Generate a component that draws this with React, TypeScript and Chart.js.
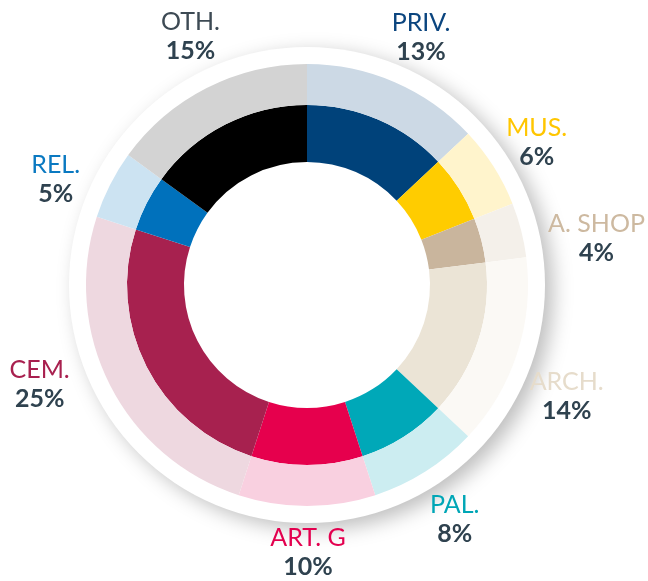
import React, { useEffect, useRef } from "react";
import { Chart, registerables } from "chart.js";

Chart.register(...registerables);

const categories = ["PRIV.", "MUS.", "A. SHOP", "ARCH.", "PAL.", "ART. G", "CEM.", "REL.", "OTH."];
const shares = [13, 6, 4, 14, 8, 10, 25, 5, 15];
const percentLabels = ["13%", "6%", "4%", "14%", "8%", "10%", "25%", "5%", "15%"];

const innerColors = ["#00427a", "#ffcc00", "#c9b59d", "#ebe4d6", "#00a8b8", "#e6004d", "#a7214f", "#0071bc", "#000000"];
const outerColors = ["#ccd9e5", "#fff4cc", "#f4f0ea", "#fbf9f5", "#ccedf1", "#f9d0e0", "#eed8e0", "#cce3f2", "#d3d3d3"];
const nameColors = ["#0b457f", "#ffc600", "#cdb9a0", "#e6dccb", "#00a6b6", "#e3004f", "#a8204f", "#0a79c1", "#3d4a54"];
const percentColor = "#2f424f";

// label nudges (styling) relative to the arc-based anchor
const labelNudges: [number, number][] = [
  [6, 2], [0, 3], [26, 21], [1, 27], [2, 5], [1, -5], [-25, -24], [-9, 18], [7, -6],
];

const ringPlugin = {
  id: "ringDecor",
  beforeDatasetsDraw(chart: any) {
    const meta = chart.getDatasetMeta(0);
    const arc = meta.data[0];
    if (!arc) return;
    const { x, y, outerRadius } = arc.getProps(["x", "y", "outerRadius"], true);
    const ctx = chart.ctx;
    ctx.save();
    ctx.beginPath();
    ctx.arc(x, y, outerRadius + 17, 0, Math.PI * 2);
    ctx.fillStyle = "#ffffff";
    ctx.shadowColor = "rgba(0,0,0,0.26)";
    ctx.shadowBlur = 20;
    ctx.shadowOffsetX = 8;
    ctx.shadowOffsetY = 6;
    ctx.fill();
    ctx.restore();
  },
  afterDraw(chart: any) {
    const outerMeta = chart.getDatasetMeta(0);
    const ctx = chart.ctx;
    ctx.save();
    ctx.textAlign = "center";
    ctx.textBaseline = "middle";
    outerMeta.data.forEach((el: any, i: number) => {
      const { x, y, startAngle, endAngle, outerRadius } = el.getProps(
        ["x", "y", "startAngle", "endAngle", "outerRadius"],
        true
      );
      const mid = (startAngle + endAngle) / 2;
      const r = outerRadius + 51;
      const lx = x + Math.cos(mid) * r + labelNudges[i][0];
      const ly = y + Math.sin(mid) * r + labelNudges[i][1];
      ctx.font = "400 25px Lato, 'Noto Sans', sans-serif";
      ctx.fillStyle = nameColors[i];
      ctx.fillText(categories[i], lx, ly - 14.5);
      ctx.font = "700 25px Lato, 'Noto Sans', sans-serif";
      ctx.fillStyle = percentColor;
      ctx.fillText(percentLabels[i], lx, ly + 14.5);
    });
    ctx.restore();
  },
};

export default function App() {
  const ref = useRef<HTMLCanvasElement | null>(null);
  useEffect(() => {
    if (!ref.current) return;
    const chart = new Chart(ref.current, {
      type: "doughnut",
      data: {
        labels: categories,
        datasets: [
          { data: shares, backgroundColor: outerColors, borderWidth: 0, weight: 41 } as any,
          { data: shares, backgroundColor: innerColors, borderWidth: 0, weight: 57 } as any,
        ],
      },
      options: {
        animation: false,
        responsive: true,
        maintainAspectRatio: false,
        cutout: 123,
        layout: { padding: { left: 86, right: 120, top: 64, bottom: 75 } },
        plugins: { legend: { display: false }, tooltip: { enabled: false } },
        events: [],
      } as any,
      plugins: [ringPlugin],
    });
    return () => chart.destroy();
  }, []);
  return (
    <div style={{ position: "fixed", left: 0, top: 0, width: 648, height: 581, background: "#ffffff" }}>
      <canvas ref={ref} />
    </div>
  );
}
